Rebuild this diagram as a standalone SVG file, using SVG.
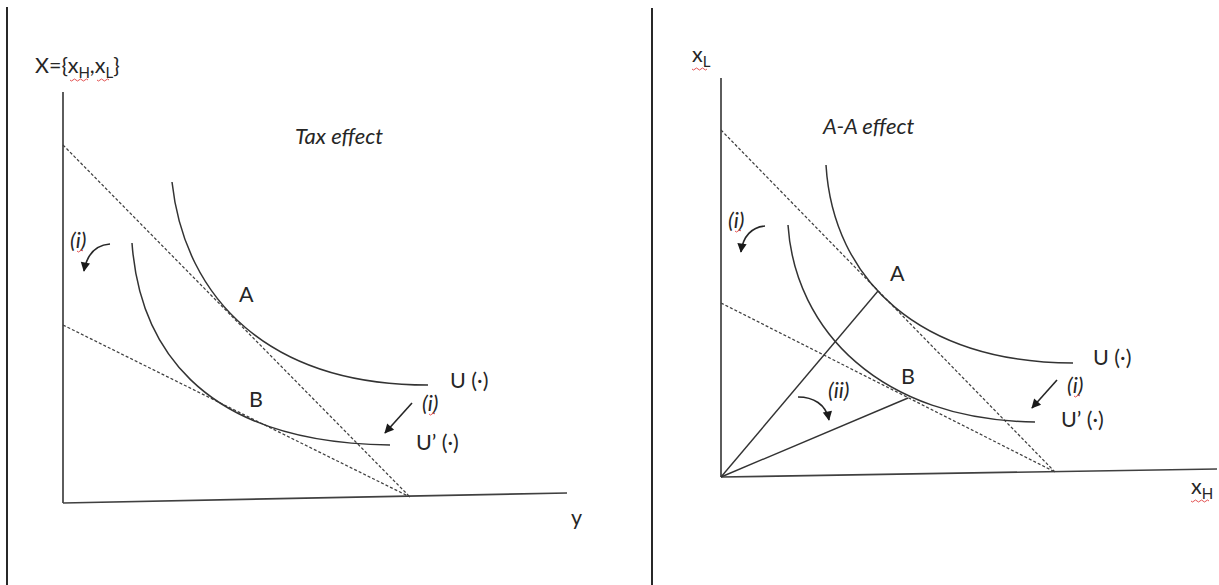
<svg xmlns="http://www.w3.org/2000/svg" width="1219" height="585" viewBox="0 0 1219 585">
<style>
.t{font-family:Lato,"Liberation Sans",sans-serif;font-size:21.5px;fill:#262626}
.it{font-style:italic;font-size:22px}
.ax{stroke:#404040;stroke-width:1.7;fill:none}
.cv{stroke:#333;stroke-width:1.5;fill:none}
.ds{stroke:#404040;stroke-width:1.25;fill:none;stroke-dasharray:3 2}
.ln{stroke:#333;stroke-width:1.4;fill:none}
.ar{stroke:#262626;stroke-width:1.6;fill:none;marker-end:url(#ah)}
.sq{stroke:#e04040;stroke-width:0.9;fill:none}
.fr{stroke:#111;stroke-width:1.8}
</style>
<defs>
<marker id="ah" viewBox="0 0 10 10" refX="9" refY="5" markerWidth="5.5" markerHeight="5.5" orient="auto" markerUnits="userSpaceOnUse" overflow="visible">
<path d="M0,0 L10,5 L0,10 z" fill="#1a1a1a" transform="scale(1.7) translate(-3.8,-2)"/>
</marker>
</defs>
<rect width="1219" height="585" fill="#fff"/>
<g id="frame">
<line class="fr" x1="7" y1="7" x2="7" y2="585"/>
<line class="fr" x1="652" y1="8" x2="652" y2="585"/>
</g>
<g id="left-panel">
<g id="left-axes">
<line class="ax" x1="63" y1="92" x2="63" y2="503"/>
<line class="ax" x1="63" y1="503" x2="567" y2="493"/>
<text class="t" x="35" y="73">X={x<tspan font-size="15" dy="5">H</tspan><tspan dy="-5">,x</tspan><tspan font-size="15" dy="5">L</tspan><tspan dy="-5">}</tspan></text>
<path class="sq" d="M70,80 q1.5,2 3,0 t3,0 t3,0 t3,0 t3,0 t3,0"/>
<path class="sq" d="M97,80 q1.5,2 3,0 t3,0 t3,0 t3,0"/>
<text class="t" x="571" y="525">y</text>
</g>
<g id="left-budget">
<line class="ds" x1="63" y1="145" x2="410" y2="497"/>
<line class="ds" x1="63" y1="325" x2="410" y2="497"/>
</g>
<g id="left-U">
<path class="cv" d="M172,182 C185,300 270,385 428,385"/>
<text class="t" x="450" y="388">U (·)</text>
</g>
<g id="left-Uprime">
<path class="cv" d="M132,243 C139,340 195,443 390,445"/>
<text class="t" x="416" y="450">U’ (·)</text>
</g>
<g id="left-A"><text class="t" x="239" y="302">A</text></g>
<g id="left-B"><text class="t" x="249" y="407">B</text></g>
<g id="left-title"><text class="t it" x="295" y="144">Tax effect</text></g>
<g id="left-i1"><text class="t it" x="70" y="248">(i)</text><path class="sq" d="M77,251 q1.5,2 3,0 t3,0"/></g>
<g id="left-i2"><text class="t it" x="422" y="411">(i)</text><path class="sq" d="M429,414 q1.5,2 3,0 t3,0"/></g>
</g>
<g id="right-panel">
<g id="right-axes">
<line class="ax" x1="721" y1="78" x2="721" y2="477"/>
<line class="ax" x1="721" y1="477" x2="1217" y2="469"/>
<text class="t" x="692" y="62" font-size="20">x<tspan font-size="15" dy="5">L</tspan></text>
<path class="sq" d="M692,69 q1.5,2 3,0 t3,0 t3,0 t3,0 t3,0"/>
<text class="t" x="1191" y="494" font-size="20">x<tspan font-size="15" dy="5">H</tspan></text>
<path class="sq" d="M1191,501 q1.5,2 3,0 t3,0 t3,0 t3,0 t3,0 t3,0"/>
</g>
<g id="right-budget">
<line class="ds" x1="721" y1="130" x2="1055" y2="472"/>
<line class="ds" x1="721" y1="303" x2="1055" y2="472"/>
</g>
<g id="right-rays">
<line class="ln" x1="721" y1="477" x2="878" y2="291"/>
<line class="ln" x1="721" y1="477" x2="908" y2="398"/>
</g>
<g id="right-U">
<path class="cv" d="M826,165 C833,280 920,363 1073,363"/>
<text class="t" x="1093" y="365">U (·)</text>
</g>
<g id="right-Uprime">
<path class="cv" d="M788,225 C795,330 880,420 1035,422"/>
<text class="t" x="1061" y="427">U’ (·)</text>
</g>
<g id="right-A"><text class="t" x="890" y="281">A</text></g>
<g id="right-B"><text class="t" x="901" y="384">B</text></g>
<g id="right-title"><text class="t it" x="823" y="134">A-A effect</text></g>
<g id="right-i1"><text class="t it" x="728" y="228">(i)</text><path class="sq" d="M735,231 q1.5,2 3,0 t3,0"/></g>
<g id="right-i2"><text class="t it" x="1067" y="393">(i)</text><path class="sq" d="M1074,396 q1.5,2 3,0 t3,0"/></g>
<g id="right-ii"><text class="t it" x="828" y="398">(ii)</text></g>
</g>
<g id="connectors">
<path class="ar" d="M110,244 C96,245 87,254 84,271"/>
<path class="ar" d="M412,403 L385,433"/>
<path class="ar" d="M765,226 C752,227 743,236 741,252"/>
<path class="ar" d="M1057,380 L1032,408"/>
<path class="ar" d="M798,397 C813,397 826,404 829,420"/>
</g>
</svg>
